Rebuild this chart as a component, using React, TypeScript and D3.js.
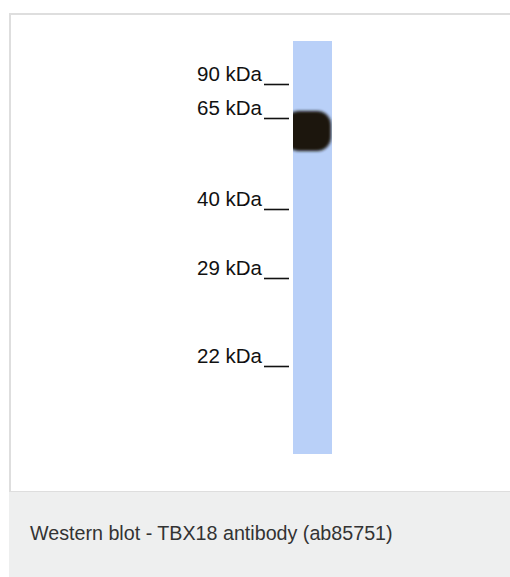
import React from "react";
import * as d3 from "d3";

const markerKDa = [90, 65, 40, 29, 22];
const markerLabels = ["90 kDa", "65 kDa", "40 kDa", "29 kDa", "22 kDa"];
const bandKDa = [60];
const bandIntensity = [1];
const caption = "Western blot - TBX18 antibody (ab85751)";

const W = 510;
const H = 577;
const font = "'Liberation Sans', Arial, sans-serif";

export default function App() {
  // piecewise log scale mapping molecular weight to blot position
  const y = d3
    .scaleLog()
    .domain(markerKDa)
    .range([81, 115, 206, 275, 363]);
  const laneX0 = 293;
  const laneX1 = 332;
  const laneTop = 41;
  const laneBottom = 454;
  const bandH = 40;

  return (
    <svg
      width={W}
      height={H}
      style={{ position: "absolute", left: 0, top: 0, background: "#fff" }}
    >
      <defs>
        <filter id="blur" x="-30%" y="-30%" width="160%" height="160%">
          <feGaussianBlur stdDeviation="1.6" />
        </filter>
        <clipPath id="laneClip">
          <rect x={laneX0} y={laneTop} width={laneX1 - laneX0} height={laneBottom - laneTop} />
        </clipPath>
      </defs>
      <rect x={10} y={14} width={620} height={478} fill="#fff" stroke="#dedede" strokeWidth={2} />
      <rect x={9} y={492} width={620} height={90} fill="#eeefef" />

      <rect x={laneX0} y={laneTop} width={laneX1 - laneX0} height={laneBottom - laneTop} fill="#b9d0f8" />

      <g clipPath="url(#laneClip)">
        {bandKDa.map((k, i) => (
          <rect
            key={i}
            x={laneX0 - 8}
            y={y(k) - bandH / 2 + 1}
            width={laneX1 - laneX0 + 7}
            height={bandH}
            rx={14}
            fill="#1b120e"
            opacity={bandIntensity[i]}
            filter="url(#blur)"
          />
        ))}
      </g>

      {markerKDa.map((k, i) => (
        <text
          key={k}
          x={197}
          y={y(k)}
          fontFamily={font}
          fontSize={20.5}
          fill="#111"
        >
          {markerLabels[i]}
        </text>
      ))}
      {markerKDa.map((k) => (
        <line
          key={"l" + k}
          x1={264}
          x2={289}
          y1={y(k) + 3.5}
          y2={y(k) + 3.5}
          stroke="#111"
          strokeWidth={1.6}
        />
      ))}

      <text x={30} y={540} fontFamily={font} fontSize={19.7} fill="#333">
        {caption}
      </text>
    </svg>
  );
}
